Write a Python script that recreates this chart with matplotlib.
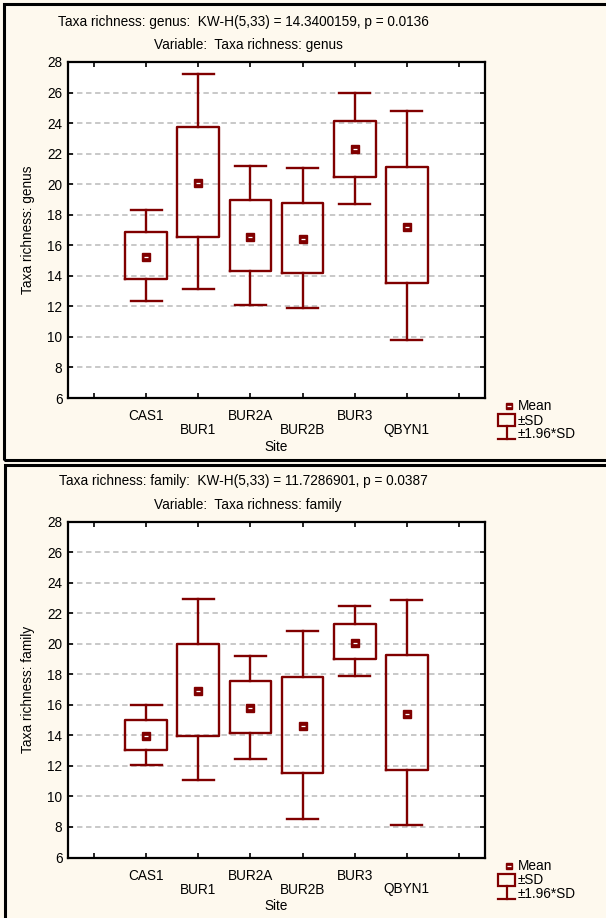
import numpy as np
import matplotlib.pyplot as plt
from matplotlib.patches import Rectangle
from matplotlib.lines import Line2D

plt.rcParams['font.family'] = ['Liberation Sans', 'DejaVu Sans']

# data
sites = ['CAS1', 'BUR1', 'BUR2A', 'BUR2B', 'BUR3', 'QBYN1']

genus_mean = [15.25, 20.07, 16.54, 16.41, 22.29, 17.19]
genus_sd_lo = [13.8, 16.56, 14.32, 14.17, 20.44, 13.51]
genus_sd_hi = [16.84, 23.73, 18.98, 18.8, 24.16, 21.14]
genus_ci_lo = [12.36, 13.12, 12.1, 11.9, 18.67, 9.83]
genus_ci_hi = [18.33, 27.2, 21.22, 21.07, 25.95, 24.8]

family_mean = [13.95, 16.93, 15.78, 14.6, 20.07, 15.39]
family_sd_lo = [13.01, 13.97, 14.12, 11.53, 18.98, 11.73]
family_sd_hi = [14.99, 20.0, 17.54, 17.8, 21.31, 19.26]
family_ci_lo = [12.05, 11.07, 12.47, 8.52, 17.87, 8.11]
family_ci_hi = [15.97, 22.92, 19.2, 20.83, 22.44, 22.88]

genus_title = 'Taxa richness: genus:  KW-H(5,33) = 14.3400159, p = 0.0136'
family_title = 'Taxa richness: family:  KW-H(5,33) = 11.7286901, p = 0.0387'

W, H = 606, 918
RED = '#800000'
BG = '#FEF9EE'
FS = 9.8

fig = plt.figure(figsize=(W / 100, H / 100), dpi=100)
fig.patch.set_facecolor(BG)


def fx(px):
    return px / W


def fy(py):
    return 1 - py / H


# panel frames
fig.add_artist(Rectangle((fx(4), fy(460)), fx(620), 456 / H, transform=fig.transFigure,
                         fill=False, ec='black', lw=2.2))
fig.add_artist(Rectangle((fx(5), fy(940)), fx(620), 475 / H, transform=fig.transFigure,
                         fill=False, ec='black', lw=2.2))


def panel(top, mean, sd_lo, sd_hi, ci_lo, ci_hi, title, var, ylabel):
    ax = fig.add_axes([fx(68), fy(top + 336), fx(485 - 68), 336 / H])
    ax.set_facecolor('white')
    pos = np.arange(1, len(sites) + 1)
    stats = []
    for m, a, b, c, d in zip(mean, sd_lo, sd_hi, ci_lo, ci_hi):
        stats.append(dict(med=m, q1=a, q3=b, whislo=c, whishi=d, mean=m, fliers=[]))
    lp = dict(color=RED, lw=1.7)
    ax.bxp(stats, positions=pos, widths=0.8, capwidths=0.6, showmeans=True,
           showfliers=False, boxprops=lp, whiskerprops=lp, capprops=lp,
           medianprops=dict(linestyle='none'),
           meanprops=dict(marker='s', markersize=5.5, markerfacecolor=RED,
                          markeredgecolor=RED), zorder=3)
    ax.plot(pos, mean, linestyle='none', marker='_', color='white',
            markersize=2.5, mew=0.9, zorder=5)

    ax.set_xlim(-0.5, 7.5)
    ax.set_ylim(6, 28)
    ax.set_yticks(np.arange(6, 29, 2))
    # upper row of site labels on major ticks, lower row on minor ticks
    ax.set_xticks(np.arange(0, 8))
    ax.set_xticklabels([''] + [s if i % 2 == 0 else '' for i, s in enumerate(sites)] + [''],
                       fontsize=FS)
    ax.xaxis.remove_overlapping_locs = False
    ax.set_xticks(pos[1::2], minor=True)
    ax.set_xticklabels(sites[1::2], minor=True, fontsize=FS)
    ax.tick_params(axis='y', labelsize=FS, pad=4)
    ax.tick_params(direction='in', top=True, right=True, length=3.5, width=1.2)
    ax.tick_params(axis='x', pad=8)
    ax.tick_params(axis='x', which='minor', length=0, pad=18, top=False)
    for sp in ax.spines.values():
        sp.set_linewidth(1.6)
    ax.yaxis.grid(True, color='#C4C4C4', lw=1.3, linestyle=(0, (3, 2)))
    ax.set_axisbelow(True)
    ax.set_xlabel('Site', fontsize=FS, labelpad=2)
    ax.set_ylabel(ylabel, fontsize=FS, labelpad=9)

    fig.text(fx(243), fy(top - 40), title, fontsize=FS, ha='center', va='center')
    fig.text(fx(248), fy(top - 17), 'Variable:  ' + var, fontsize=FS,
             ha='center', va='center')

    # legend
    base = top + 336
    fig.add_artist(Line2D([fx(508.5)], [fy(base + 8)], marker='s', markersize=5,
                          color=RED, transform=fig.transFigure))
    fig.add_artist(Line2D([fx(508.5)], [fy(base + 8)], marker='_', markersize=2.5,
                          mew=0.9, color='white', transform=fig.transFigure))
    fig.add_artist(Rectangle((fx(498), fy(base + 28)), fx(17), 12 / H,
                             transform=fig.transFigure, fill=False, ec=RED, lw=1.6))
    fig.add_artist(Line2D([fx(506.5), fx(506.5)], [fy(base + 28), fy(base + 41)],
                          color=RED, lw=1.6, transform=fig.transFigure))
    fig.add_artist(Line2D([fx(498), fx(515)], [fy(base + 41), fy(base + 41)],
                          color=RED, lw=1.6, transform=fig.transFigure))
    for dy, t in zip([8, 22.5, 36], ['Mean', '±SD', '±1.96*SD']):
        fig.text(fx(518), fy(base + dy), t, fontsize=FS, ha='left', va='center')
    return ax


panel(62, genus_mean, genus_sd_lo, genus_sd_hi, genus_ci_lo, genus_ci_hi,
      genus_title, 'Taxa richness: genus', 'Taxa richness: genus')
panel(521.5, family_mean, family_sd_lo, family_sd_hi, family_ci_lo, family_ci_hi,
      family_title, 'Taxa richness: family', 'Taxa richness: family')

fig.savefig('out.png', dpi=100, facecolor=BG)
